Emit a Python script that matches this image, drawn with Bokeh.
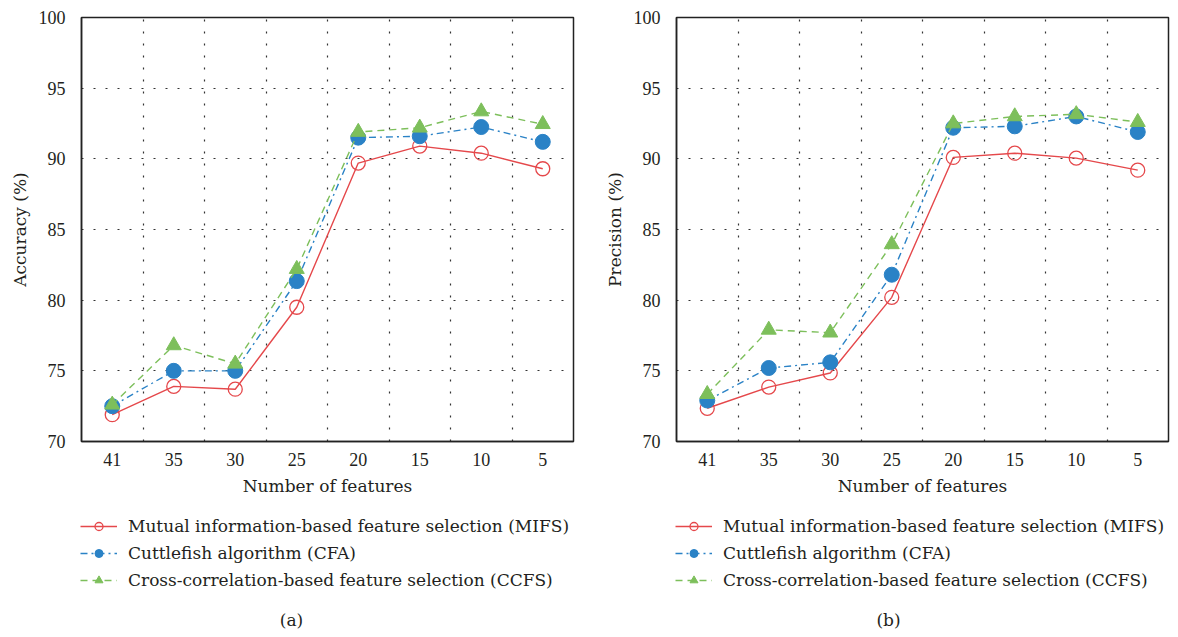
from bokeh.plotting import figure
from bokeh.models import FixedTicker, Legend, LegendItem, Label
from bokeh.layouts import row, column
from bokeh.embed import file_html
from bokeh.resources import INLINE

features = ["41", "35", "30", "25", "20", "15", "10", "5"]

acc_mifs = [71.9, 73.9, 73.7, 79.5, 89.7, 90.9, 90.4, 89.3]
acc_cfa = [72.5, 75.0, 75.0, 81.35, 91.5, 91.6, 92.25, 91.2]
acc_ccfs = [72.6, 76.8, 75.5, 82.2, 91.9, 92.2, 93.35, 92.45]

prec_mifs = [72.35, 73.85, 74.85, 80.2, 90.1, 90.4, 90.05, 89.2]
prec_cfa = [72.9, 75.2, 75.6, 81.8, 92.2, 92.3, 93.0, 91.9]
prec_ccfs = [73.35, 77.9, 77.7, 83.95, 92.5, 93.0, 93.15, 92.6]

y_ticks = [70, 75, 80, 85, 90, 95, 100]
labels = ["Mutual information-based feature selection (MIFS)",
          "Cuttlefish algorithm (CFA)",
          "Cross-correlation-based feature selection (CCFS)"]

RED = "#E5484B"
BLUE = "#2A82C6"
GREEN = "#7DBF5B"
FONT = "Liberation Serif"
FONT2 = "DejaVu Serif"
TXT = "#231F20"

STYLES = [
    dict(line=dict(line_color=RED, line_width=1.4),
         mark=dict(marker="circle", size=14, fill_color="white", fill_alpha=0,
                   line_color=RED, line_width=1.3)),
    dict(line=dict(line_color=BLUE, line_width=1.4, line_dash="7 4 2 4"),
         mark=dict(marker="circle", size=15, fill_color=BLUE, line_color=BLUE)),
    dict(line=dict(line_color=GREEN, line_width=1.4, line_dash="7 5"),
         mark=dict(marker="triangle", size=15, fill_color=GREEN, line_color=GREEN)),
]


def make_plot(series, ylabel, width, bl, br):
    xs = list(range(len(features)))
    p = figure(width=width, height=500, x_range=(-0.5, len(features) - 0.5),
               y_range=(70, 100), output_backend="svg", toolbar_location=None,
               min_border_left=bl, min_border_right=br, min_border_top=17,
               min_border_bottom=59)
    p.outline_line_color = "#222222"
    p.outline_line_width = 1.5

    p.xaxis.ticker = FixedTicker(ticks=xs)
    p.xaxis.major_label_overrides = {i: f for i, f in enumerate(features)}
    p.yaxis.ticker = FixedTicker(ticks=y_ticks)
    for ax in (p.xaxis[0], p.yaxis[0]):
        ax.axis_line_color = "#222222"
        ax.axis_line_width = 1.5
        ax.major_tick_line_color = None
        ax.minor_tick_line_color = None
        ax.major_label_text_font = FONT
        ax.major_label_text_font_size = "18px"
        ax.major_label_text_color = TXT
        ax.axis_label_text_font = FONT2
        ax.axis_label_text_font_size = "17px"
        ax.axis_label_text_font_style = "normal"
        ax.axis_label_text_color = TXT
    p.xaxis.axis_label = "Number of features"
    p.yaxis.axis_label = ylabel
    p.xaxis.major_label_standoff = 5
    p.xaxis.axis_label_standoff = 7
    p.yaxis.major_label_standoff = 10
    p.yaxis.axis_label_standoff = 6

    p.xgrid.ticker = FixedTicker(ticks=[i + 0.5 for i in xs[:-1]])
    p.ygrid.ticker = FixedTicker(ticks=y_ticks[1:-1])
    for g in (p.xgrid[0], p.ygrid[0]):
        g.grid_line_color = "#333333"
        g.grid_line_width = 1.2
        g.grid_line_dash = "2 10"

    for ys, st in zip(series, STYLES):
        p.line(xs, ys, **st["line"])
        p.scatter(xs, ys, **st["mark"])
    return p


def make_legend(series, width, lx, caption, cx):
    xs = list(range(len(features)))
    q = figure(width=width, height=137, x_range=(-0.5, len(features) - 0.5),
               y_range=(70, 100), output_backend="svg", toolbar_location=None,
               x_axis_type=None, y_axis_type=None, frame_align=False,
               min_border_left=0, min_border_right=0, min_border_top=0,
               min_border_bottom=0)
    q.outline_line_color = None
    q.xgrid.visible = False
    q.ygrid.visible = False
    items = []
    for lab, ys, st in zip(labels, series, STYLES):
        r1 = q.line(xs, ys, visible=False, **st["line"])
        r2 = q.scatter(xs, ys, visible=False, **st["mark"])
        items.append(LegendItem(label=lab, renderers=[r1, r2]))
    legend = Legend(items=items, location=(lx, 47), orientation="vertical")
    legend.border_line_color = None
    legend.background_fill_alpha = 0
    legend.inactive_fill_alpha = 0
    legend.label_text_font = FONT2
    legend.label_text_font_size = "17px"
    legend.label_text_color = TXT
    legend.glyph_width = 37
    legend.glyph_height = 20
    legend.label_height = 20
    legend.label_standoff = 11
    legend.spacing = 7
    legend.padding = 0
    legend.margin = 0
    q.add_layout(legend, "center")

    cap = Label(x=cx, y=18, x_units="screen", y_units="screen",
                text=caption, text_align="center", text_baseline="middle",
                text_font=FONT2, text_font_size="17px", text_color=TXT)
    q.add_layout(cap)
    return q


W1 = 596
W2 = 582
acc = [acc_mifs, acc_cfa, acc_ccfs]
prec = [prec_mifs, prec_cfa, prec_ccfs]
pa = make_plot(acc, "Accuracy (%)", W1, 81, 23)
la = make_legend(acc, W1, 80, "(a)", 291)
pb = make_plot(prec, "Precision (%)", W2, 80, 10)
lb = make_legend(prec, W2, 79, "(b)", 292)

layout = row(column(pa, la), column(pb, lb))
open("out.html", "w").write(file_html(layout, INLINE))
